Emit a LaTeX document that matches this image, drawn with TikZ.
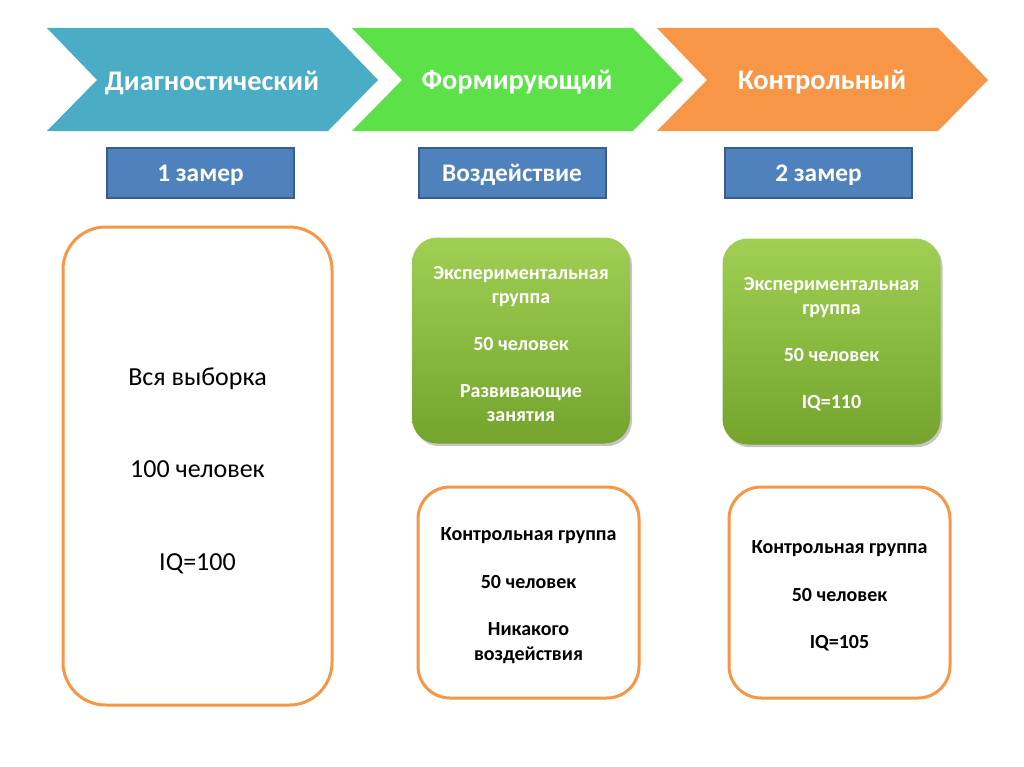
\documentclass[tikz,border=0pt]{standalone}
\usepackage{fontspec}
\setmainfont{Carlito}
\usetikzlibrary{positioning}
\usetikzlibrary{shadows}

\definecolor{chevblue}{RGB}{75,172,198}
\definecolor{chevgreen}{RGB}{93,225,72}
\definecolor{chevorange}{RGB}{247,150,70}
\definecolor{phaseblue}{RGB}{79,129,189}
\definecolor{phaseborder}{RGB}{56,93,138}
\definecolor{grouptop}{RGB}{160,207,84}
\definecolor{groupbottom}{RGB}{116,164,44}

\begin{document}
\begin{tikzpicture}[x=0.75pt, y=-0.75pt,
		chevtext/.style={text=white, font=\bfseries\fontsize{21.3}{25}\selectfont},
		phasebox/.style={draw=phaseborder, line width=1.5pt, fill=phaseblue, text=white,
			font=\bfseries\fontsize{19}{23}\selectfont, text height=16.5pt, text depth=4pt,
			minimum width=140.25pt, minimum height=37.5pt, inner sep=0pt},
		samplebox/.style={draw=chevorange, line width=2.25pt, rounded corners=32pt,
			minimum width=201.75pt, minimum height=358.5pt, inner sep=0pt},
		sampletext/.style={align=center, font=\fontsize{19.5}{23}\selectfont},
		expbox/.style={rounded corners=19pt, top color=grouptop, bottom color=groupbottom,
			drop shadow={shadow xshift=1.5pt, shadow yshift=-2pt, opacity=0.45},
			minimum width=163.5pt, minimum height=154.5pt, inner sep=0pt},
		exptext/.style={text=white, align=center, font=\bfseries\fontsize{15}{18}\selectfont},
		ctrlbox/.style={draw=chevorange, line width=2.25pt, rounded corners=24pt,
			minimum width=165.75pt, minimum height=158.25pt, inner sep=0pt},
		ctrltext/.style={align=center, font=\bfseries\fontsize{15}{19}\selectfont}]
	\fill[white] (0,0) rectangle (1024,767);
	\useasboundingbox (0,0) rectangle (1024,767);
	% stages
	\foreach \x/\col/\name/\txt in {47/chevblue/diag/Диагностический, 352/chevgreen/form/Формирующий, 657/chevorange/kontr/Контрольный}{
		\fill[\col] (\x,28) -- ++(281,0) -- ++(50,52) -- ++(-50,51) -- ++(-281,0) -- ++(50,-51) -- cycle;
		\node[chevtext] (\name) at (\x+165,82.5) {\txt};
	}
	% measurements
	\node[phasebox] (zamer1) at (200.5,173) {1 замер};
	\node[phasebox] (vozd) at (512,173) {Воздействие};
	\node[phasebox] (zamer2) at (818.5,173) {2 замер};
	% groups
	\node[samplebox] (all) at (197.5,466) {};
	\node[sampletext] (alltext) at ([yshift=-3.5pt]all.center) {Вся выборка\\[46.5pt]100 человек\\[46.5pt]IQ=100};
	\node[expbox] (exp1) at (521,340.5) {};
	\node[exptext] (exp1text) at ([yshift=-2.8pt]exp1.center) {Экспериментальная\\группа\\[17.25pt]50 человек\\[17.25pt]Развивающие\\занятия};
	\node[expbox] (exp2) at (831.5,341.5) {};
	\node[exptext] (exp2text) at ([yshift=-2.3pt]exp2.center) {Экспериментальная\\группа\\[17.25pt]50 человек\\[17.25pt]IQ=110};
	\node[ctrlbox] (ctrl1) at (528.5,592.5) {};
	\node[ctrltext] (ctrl1text) at ([yshift=-2.5pt]ctrl1.center) {Контрольная группа\\[16.5pt]50 человек\\[16.5pt]Никакого\\воздействия};
	\node[ctrlbox] (ctrl2) at (839.5,592.5) {};
	\node[ctrltext] (ctrl2text) at ([yshift=-2.5pt]ctrl2.center) {Контрольная группа\\[16.5pt]50 человек\\[16.5pt]IQ=105};
\end{tikzpicture}
\end{document}
